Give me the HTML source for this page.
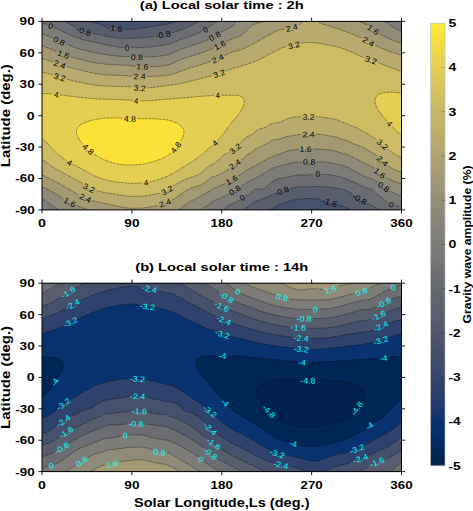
<!DOCTYPE html>
<html><head><meta charset="utf-8"><style>
html,body{margin:0;padding:0;background:#fff;}
svg{display:block;}
text{font-family:"Liberation Sans",sans-serif;}
</style></head><body>
<svg width="473" height="511" viewBox="0 0 473 511">
<rect width="473" height="511" fill="#fff"/>
<mask id="m0" maskUnits="userSpaceOnUse" x="0" y="0" width="473" height="511"><rect x="0" y="0" width="473" height="511" fill="#fff"/><rect x="-3.75" y="-3.2" width="7.49" height="6.4" transform="translate(50.59 25.8) rotate(21.97)" fill="#000"/><rect x="-7.56" y="-3.2" width="15.12" height="6.4" transform="translate(59.08 40.98) rotate(24.88)" fill="#000"/><rect x="-7.56" y="-3.2" width="15.12" height="6.4" transform="translate(63.37 54.39) rotate(21.12)" fill="#000"/><rect x="-7.56" y="-3.2" width="15.12" height="6.4" transform="translate(59.78 64.34) rotate(18.88)" fill="#000"/><rect x="-7.56" y="-3.2" width="15.12" height="6.4" transform="translate(59.78 77.11) rotate(16.63)" fill="#000"/><rect x="-9" y="-3.2" width="18.01" height="6.4" transform="translate(83.84 31.03) rotate(19.9)" fill="#000"/><rect x="-9" y="-3.2" width="18.01" height="6.4" transform="translate(114.9 28.21) rotate(7.04)" fill="#000"/><rect x="-3.75" y="-3.2" width="7.49" height="6.4" transform="translate(126.98 48) rotate(0.77)" fill="#000"/><rect x="-7.56" y="-3.2" width="15.12" height="6.4" transform="translate(136.87 57.01) rotate(1.88)" fill="#000"/><rect x="-7.56" y="-3.2" width="15.12" height="6.4" transform="translate(142.46 66.54) rotate(1.22)" fill="#000"/><rect x="-7.56" y="-3.2" width="15.12" height="6.4" transform="translate(139.66 76.38) rotate(1.29)" fill="#000"/><rect x="-7.56" y="-3.2" width="15.12" height="6.4" transform="translate(139.66 88) rotate(3.37)" fill="#000"/><rect x="-3.75" y="-3.2" width="7.49" height="6.4" transform="translate(136.17 100.67) rotate(2.89)" fill="#000"/><rect x="-7.56" y="-3.2" width="15.12" height="6.4" transform="translate(129.78 118.79) rotate(2.06)" fill="#000"/><rect x="-9" y="-3.2" width="18.01" height="6.4" transform="translate(163.03 34.59) rotate(-10.46)" fill="#000"/><rect x="-3.75" y="-3.2" width="7.49" height="6.4" transform="translate(205.37 29.57) rotate(-29.95)" fill="#000"/><rect x="-7.56" y="-3.2" width="15.12" height="6.4" transform="translate(214.66 35.96) rotate(-28.96)" fill="#000"/><rect x="-7.56" y="-3.2" width="15.12" height="6.4" transform="translate(219.75 45.17) rotate(-27.03)" fill="#000"/><rect x="-7.56" y="-3.2" width="15.12" height="6.4" transform="translate(217.66 58.68) rotate(-23.24)" fill="#000"/><rect x="-7.56" y="-3.2" width="15.12" height="6.4" transform="translate(219.05 73.55) rotate(-18.68)" fill="#000"/><rect x="-3.75" y="-3.2" width="7.49" height="6.4" transform="translate(217.66 95.33) rotate(-1.79)" fill="#000"/><rect x="-7.56" y="-3.2" width="15.12" height="6.4" transform="translate(291.65 27.79) rotate(-13.17)" fill="#000"/><rect x="-7.56" y="-3.2" width="15.12" height="6.4" transform="translate(293.85 45.17) rotate(-13.67)" fill="#000"/><rect x="-7.56" y="-3.2" width="15.12" height="6.4" transform="translate(373.14 29.78) rotate(36.29)" fill="#000"/><rect x="-7.56" y="-3.2" width="15.12" height="6.4" transform="translate(368.45 41.61) rotate(29.25)" fill="#000"/><rect x="-7.56" y="-3.2" width="15.12" height="6.4" transform="translate(371.04 60.04) rotate(17.44)" fill="#000"/><rect x="-3.75" y="-3.2" width="7.49" height="6.4" transform="translate(56.28 94.6) rotate(6.82)" fill="#000"/><rect x="-7.56" y="-3.2" width="15.12" height="6.4" transform="translate(88.24 149.16) rotate(41.58)" fill="#000"/><rect x="-7.56" y="-3.2" width="15.12" height="6.4" transform="translate(175.81 147.38) rotate(-51.47)" fill="#000"/><rect x="-3.75" y="-3.2" width="7.49" height="6.4" transform="translate(214.96 143.09) rotate(-42.79)" fill="#000"/><rect x="-7.56" y="-3.2" width="15.12" height="6.4" transform="translate(235.23 148.64) rotate(-39.15)" fill="#000"/><rect x="-3.75" y="-3.2" width="7.49" height="6.4" transform="translate(389.72 123.71) rotate(47.65)" fill="#000"/><rect x="-7.56" y="-3.2" width="15.12" height="6.4" transform="translate(308.53 116.91) rotate(0.63)" fill="#000"/><rect x="-7.56" y="-3.2" width="15.12" height="6.4" transform="translate(308.53 134.29) rotate(-0.43)" fill="#000"/><rect x="-7.56" y="-3.2" width="15.12" height="6.4" transform="translate(305.63 149.16) rotate(0.5)" fill="#000"/><rect x="-7.56" y="-3.2" width="15.12" height="6.4" transform="translate(382.53 144.45) rotate(40)" fill="#000"/><rect x="-3.75" y="-3.2" width="7.49" height="6.4" transform="translate(69.66 162.57) rotate(29.59)" fill="#000"/><rect x="-7.56" y="-3.2" width="15.12" height="6.4" transform="translate(88.93 188.01) rotate(26.98)" fill="#000"/><rect x="-7.56" y="-3.2" width="15.12" height="6.4" transform="translate(85.34 198.07) rotate(22.96)" fill="#000"/><rect x="-7.56" y="-3.2" width="15.12" height="6.4" transform="translate(69.66 202.26) rotate(27.52)" fill="#000"/><rect x="-3.75" y="-3.2" width="7.49" height="6.4" transform="translate(146.06 182.46) rotate(-7.78)" fill="#000"/><rect x="-7.56" y="-3.2" width="15.12" height="6.4" transform="translate(167.13 190.21) rotate(-29.39)" fill="#000"/><rect x="-7.56" y="-3.2" width="15.12" height="6.4" transform="translate(164.93 202.99) rotate(-19.25)" fill="#000"/><rect x="-7.56" y="-3.2" width="15.12" height="6.4" transform="translate(234.83 164.45) rotate(-34.88)" fill="#000"/><rect x="-7.56" y="-3.2" width="15.12" height="6.4" transform="translate(231.74 180.05) rotate(-28.49)" fill="#000"/><rect x="-7.56" y="-3.2" width="15.12" height="6.4" transform="translate(234.73 190.21) rotate(-31.32)" fill="#000"/><rect x="-3.75" y="-3.2" width="7.49" height="6.4" transform="translate(242.22 197.65) rotate(-30.35)" fill="#000"/><rect x="-9" y="-3.2" width="18.01" height="6.4" transform="translate(281.67 190.95) rotate(-18.5)" fill="#000"/><rect x="-7.56" y="-3.2" width="15.12" height="6.4" transform="translate(309.13 161.83) rotate(-0.6)" fill="#000"/><rect x="-3.75" y="-3.2" width="7.49" height="6.4" transform="translate(317.62 173.98) rotate(-0.82)" fill="#000"/><rect x="-9" y="-3.2" width="18.01" height="6.4" transform="translate(359.56 199.01) rotate(30.6)" fill="#000"/><rect x="-9" y="-3.2" width="18.01" height="6.4" transform="translate(329.7 202.26) rotate(16.18)" fill="#000"/><rect x="-7.56" y="-3.2" width="15.12" height="6.4" transform="translate(382.53 160.89) rotate(42.36)" fill="#000"/><rect x="-7.56" y="-3.2" width="15.12" height="6.4" transform="translate(379.83 173.25) rotate(37.82)" fill="#000"/><rect x="-7.56" y="-3.2" width="15.12" height="6.4" transform="translate(383.72 186.86) rotate(35.48)" fill="#000"/><rect x="-3.75" y="-3.2" width="7.49" height="6.4" transform="translate(391.51 204.35) rotate(22.47)" fill="#000"/></mask>
<clipPath id="c0"><rect x="42.0" y="21.4" width="359.5" height="188.5"/></clipPath>
<g clip-path="url(#c0)">
<rect x="42.0" y="21.4" width="359.5" height="188.5" fill="#00224e"/>
<path fill="#002656" fill-rule="evenodd" d="M43 209.9 401.5 209.9 401.5 21.4 42 21.4 42 209.9Z"/>
<path fill="#083370" fill-rule="evenodd" d="M43 209.9 401.5 209.9 401.5 21.4 42 21.4 42 209.9Z"/>
<path fill="#2f426d" fill-rule="evenodd" d="M43 209.9 401.5 209.9 401.5 21.4 42 21.4 42 209.9Z"/>
<path fill="#45506c" fill-rule="evenodd" d="M43 209.9 401.5 209.9 401.5 21.4 42 21.4 42 209.9Z"/>
<path fill="#595e6e" fill-rule="evenodd" d="M43 209.9 269.8 209.9 280.7 204 285.7 202.5 291.7 200.2 302.6 198.7 306.6 198.5 316.6 198.9 320.3 199.4 322.6 199.9 329.6 202.2 336.6 204 340.6 205.2 345.6 207.2 350.9 209.9 401.5 209.9 401.5 21.4 177.5 21.4 172.8 22.9 165.8 24.3 144.9 27.7 128.9 29.6 120.9 29.1 106.9 27.3 104.9 26.7 100.9 24.5 98.9 23.7 90.9 22.3 87.9 21.4 42 21.4 42 209.9Z"/>
<path fill="#6b6d72" fill-rule="evenodd" d="M43 209.9 243 209.9 250.2 204.7 255.2 201.5 263.7 198.3 277.7 192.4 284.7 189.9 290.7 188.4 300.6 186.7 305.6 186.9 317.6 186.5 325.6 186.8 333.6 187.7 338.6 188.6 346.6 190.6 350.6 192.7 359.6 199 369.5 204.2 379.2 209.9 401.5 209.9 401.5 21.4 198.3 21.4 193.1 24.5 186.8 27.6 181.8 29.5 170.8 33.2 155.8 36 148.9 37.1 142.9 37.7 133 38.2 129.9 38.5 127.9 38.6 118.9 38.1 105.9 36.2 86.7 31.9 82.9 30.7 78.5 28.7 64.7 21.4 42 21.4 42 209.9Z"/>
<path fill="#7d7c78" fill-rule="evenodd" d="M43 209.9 224.4 209.9 225.7 207.6 226.7 206.4 228.7 205.2 236.7 202 242.7 197.4 249.6 194.2 250.8 193.1 253.6 190 254.7 189.1 255.7 188.9 256.7 188.8 261.7 189.5 263.5 189 265.7 187.4 271.7 182.1 274.1 180.6 276.7 179.4 279.7 178.5 286.7 177.3 296.6 175.1 300.6 174.8 305.6 175.2 317.6 174 327.6 174.6 333.6 175.3 340.6 177 345.6 178.7 356.6 183.3 364.6 187.3 370.5 189.1 372.4 190 374.5 191.6 383.8 199.4 387.5 202.1 390.5 203.9 392.5 204.7 394.5 205.3 401.5 206.8 401.5 21.4 216.4 21.4 208.3 27.7 204.8 30 201.8 31.6 194.8 34.6 179.8 39.9 170.8 43.6 162.8 45.4 151.8 46.8 144.9 47.3 135.9 47.7 131.9 47.7 127.9 47.3 125.9 47.9 120.9 47.5 113.9 46.4 105.9 44.9 95.9 42.4 88.9 41.1 83.9 39.9 72 35.8 66 33.1 52 26.4 48 24.8 42 22.8 42 209.9Z"/>
<path fill="#908b78" fill-rule="evenodd" d="M57 208.9 58.6 209.9 200.5 209.9 203.2 207.8 205.8 206.6 207.8 205.3 214.8 200.2 215.8 199.7 218.8 199 219.8 198.5 224.7 195.8 231.7 192.3 235.1 190 239.7 187.3 245.7 183.1 252.7 179.5 260.7 175.6 268.7 170.4 271 169.1 276.7 166.9 290.7 163.1 294.6 162.3 299.6 161.9 317.6 161.7 323.6 162 332.6 163.3 340.6 165 344.6 166.1 347.6 167.3 358.6 173.4 364.6 176.5 367.5 177.7 370.5 178.3 372.5 178.9 376.5 181.4 384.5 187.4 389.5 190.7 395.5 193.7 401.5 195.8 401.5 31.3 398 29.8 394.1 27.7 389.2 24.5 384.8 21.4 235.5 21.4 234.9 23.5 234.3 24.5 233.4 25.6 231.9 26.6 222.7 31.4 209.8 38.6 201.8 42.2 182.8 48.6 177.8 50.6 171.8 53.6 167.8 54.7 162.8 55.7 157.8 56.4 150.8 56.9 142.9 57.1 122.9 56.5 112.9 55.7 96.9 53 82.1 49.7 77 48.2 68 44.9 49 36.3 42 33.7 42 198.8 46 201.1 56.9 208.9Z"/>
<path fill="#a39a74" fill-rule="evenodd" d="M85.9 209 89 209.9 178.3 209.9 181.8 207.7 190.5 201.5 193.8 199.5 200.8 196.1 213.8 188.5 224.6 183.7 234.7 178.6 237.7 176.7 245.7 170.7 259 163.8 267.7 158.7 273.7 156.1 281.7 153.3 285.7 151.6 288.7 150.8 298.6 149 316.6 149.1 323.6 149.4 330.6 150.2 333.6 150.8 337.6 151.8 343.6 153.7 347.6 154.7 354.6 158 366.5 164.5 371.5 166.2 374.5 168.3 380.5 173.7 384.5 176.4 388.5 178.7 394.5 181.6 401.5 184 401.5 43.1 393.5 40.6 385.5 37.1 379.8 34 374.6 30.8 368.5 26 366.5 24.7 359 21.4 262.9 21.4 255.7 23.7 253.7 24.5 251.7 25.6 249.7 27.2 244.3 32.9 242.7 34.2 240.7 35.5 237.7 36.9 233.7 38.1 230.7 39.4 218.8 45.7 211.8 48.9 201.8 52.8 181.8 59.2 177.8 60.8 172.8 63.4 170.8 64.2 165.8 65.4 158.8 66.2 148.9 66.6 136.9 66.4 132.9 66 127.9 65.3 117.9 64.9 105.9 64.2 96.9 63 85.9 60.7 74 57.7 68 56 63 54.2 49 48.3 42 45.7 42 187 47 189.1 52 191.7 66 200.2 72 203.4 78.9 206.5 85.6 208.9Z"/>
<path fill="#b9ab6d" fill-rule="evenodd" d="M125.9 207.8 130.9 208.3 136.9 208.3 142.9 208 147.9 207.4 152.8 206.5 157.8 205.3 169.8 201.3 174.8 198.5 183.9 192.1 188.8 189.1 191.8 187.8 197.8 186.2 200.8 185.1 204.7 182.7 210.8 178 212.8 176.8 217.8 175.2 224.7 171.6 227.7 169.7 233.7 165.1 243.5 158.6 245.7 156.5 246.3 155.4 250.7 152.8 255.7 149 257.7 147.9 265.7 144.3 271.7 140.5 273.7 139.8 279.7 139 284.7 137.1 286.7 136.6 298.6 134.5 302.6 134.3 315.6 134.2 321.6 134.5 334.6 136.8 337.5 137.6 341.6 139.2 346.6 140.5 352.6 143.3 362.1 147.1 372.5 152.6 377.5 156.3 385.5 163.6 389.5 166.7 392.5 168.5 395.5 170.1 401.5 172.4 401.5 55.2 390.5 51.8 381.5 48.3 373.5 44.4 364.4 39.2 354.6 34.9 339.6 29.2 321.6 23.7 319.6 22.8 317.9 21.4 302.9 21.4 299.6 24.7 298 25.6 295.6 26.6 291.7 27.8 280.7 29.7 277.7 30.5 275.7 31.4 266.9 36.1 250.7 45.3 246.7 47.3 242.7 49 237.8 50.7 233.7 51.6 231.7 52.3 216.8 59.1 207.8 62.5 187.8 68.8 174.8 73.4 169.8 74.8 166.8 75.3 155.8 76.3 145.9 76.6 132.9 76.3 121.9 75.4 105.9 74.9 100.9 74.4 88.9 72.2 72 68 63 65.4 49 60.5 42 58.4 42 174.8 57.6 182.7 79.6 195.2 85.9 198.3 91.9 200.4 100.9 202.8 103.9 203.5 107.9 204 118.9 206.6 125.8 207.8Z"/>
<path fill="#cebc63" fill-rule="evenodd" d="M130.9 196.3 134.9 196.5 139.9 196.3 144.9 195.9 149.8 195.2 158.8 193.3 162.8 192.1 165.8 190.9 167.4 190 171.7 186.9 181.8 181.3 186.8 179 196.8 175.4 199.8 173.9 207.8 167.1 218.2 160.7 219.2 159.6 220.8 157.5 223.1 155.4 234.7 148.9 235.7 148.1 239.7 143.5 243.7 139.9 245.7 137.6 247.7 136.5 252.4 134.5 253.7 133.5 255.7 131.2 256.8 130.3 259.7 129 265.7 127.3 269.7 124.6 271.7 123.5 273.7 123 279.7 122.6 281.2 121.9 284.7 119.8 286.7 118.9 289.7 118 293.6 117.2 296.6 116.8 300.6 116.6 308.6 116.9 319.6 116.9 323.6 117.3 327.6 117.9 334.6 119.2 337.6 120 341.9 121.9 357.6 128.2 362.6 131.3 367.5 133.7 378.5 141.1 389.5 150.4 393.5 153.4 397.5 155.8 401.5 157.6 401.5 71.4 388.5 66.7 372.5 60.5 367.5 59.4 365.6 58.7 353.4 52.8 345.7 49.7 339.7 47.6 335.9 46.5 328.6 45 318.6 43.2 313.6 42.6 307.6 42.6 301.6 43.1 299.6 43.5 293.6 45.2 285.7 46.8 282.7 47.6 276.7 50.3 261.7 58.4 253.7 62 245.7 64.8 232.7 68.4 219.8 73.3 212.8 75.5 188.8 81.6 179.8 83.8 174.8 84.6 168.8 85.2 153.8 87.3 146.9 87.9 140.9 88 129.9 86.8 104.9 86.1 94.9 85.1 84.9 83.4 73 80.8 65 78.7 47 73.3 42 72.2 42 159.3 49 164.5 54.4 168 66 174.5 79.9 182 82.8 183.7 87.9 187.4 90.9 188.9 96.9 190.8 106.9 192.9 121.9 195.4 130 196.3Z"/>
<path fill="#e5cf52" fill-rule="evenodd" d="M122.9 182.7 127.9 183.1 132.9 183.3 142.9 182.8 147.9 182.2 151.8 181.5 155.8 180.5 159.8 179.3 167.8 176 173.2 173.2 187 164.9 195.8 159 199.8 156.2 203.8 152.9 215.2 142.9 220.3 137.6 224.6 132.4 232.7 121.2 237.7 115.7 240.6 111.5 242.3 108.3 243.7 105.2 244.2 103.1 244.2 101 243.7 99.2 242.7 97.8 240.7 96.3 239.3 95.8 237.7 95.4 221.8 95.3 208.9 95.8 199.8 96.4 181.8 98.1 166.8 99.2 151.8 100.5 141.9 100.9 114.9 99.4 100.9 99.1 93.9 98.7 79.9 97.3 50 93.8 46 93.5 42 93.6 42 138.6 47 142.9 54.6 151.3 57.8 154.4 63.4 158.6 70 162.8 81.9 169 92.9 175 98.9 177.7 103.9 179.3 108.9 180.6 114.9 181.7 122.2 182.7ZM401.5 135 401.5 93.1 395.5 92.4 390.5 92.1 385.5 92.4 381.5 93.2 378.5 94.5 376.5 96.3 375.6 97.8 375.2 98.9 375 101 375.4 104.1 376.6 107.3 378.4 110.4 381.4 114.6 384 117.7 389.5 123.5 394.5 129.3 397.5 132.1 400.7 134.5Z"/>
<path fill="#fce236" fill-rule="evenodd" d="M124.9 164.9 129.9 165 135.9 164.8 143.9 164 150.8 162.4 159.8 159.4 162.8 158.1 165.8 156.6 170.6 153.3 172.7 151.3 178.6 143.9 180.9 140.8 182.1 138.7 183.1 136.6 183.7 134.5 184 132.4 183.8 130.3 182.9 128.2 182.2 127.2 180.8 125.8 178.8 124.3 176.4 123 173.8 121.9 169.8 120.5 167.8 120 159.8 119.1 148.9 118.7 129.9 118.8 114.9 117.8 109.9 117.9 103.9 118.2 99.4 118.8 94.9 119.6 89.9 120.8 86.9 121.8 83.8 123 81.8 124 79.9 125.2 77.9 127.2 76.8 129.3 76.5 131.4 76.9 134.5 78.1 137.6 80.1 140.8 82.8 143.9 85.9 147.1 91.9 152.3 97.9 156.6 101.5 158.6 104.9 160.1 110.9 162.2 114.9 163.4 119.9 164.4 124.5 164.9Z"/>
<g mask="url(#m0)" fill="none" stroke="#000" stroke-width="0.6" stroke-dasharray="0.7 0.7" stroke-opacity="1">
<path d="M269.8 209.9 280.7 204 285.7 202.5 291.7 200.2 302.6 198.7 306.6 198.5 316.6 198.9 320.3 199.4 322.6 199.9 329.6 202.2 336.6 204 340.6 205.2 345.6 207.2 350.9 209.9"/>
<path d="M177.5 21.4 172.8 22.9 165.8 24.3 144.9 27.7 128.9 29.6 120.9 29.1 106.9 27.3 104.9 26.7 100.9 24.5 98.9 23.7 90.9 22.3 87.9 21.4"/>
<path d="M243 209.9 250.2 204.7 255.2 201.5 263.7 198.3 277.7 192.4 284.7 189.9 290.7 188.4 300.6 186.7 305.6 186.9 317.6 186.5 325.6 186.8 333.6 187.7 338.6 188.6 346.6 190.6 350.6 192.7 359.6 199 369.5 204.2 379.2 209.9"/>
<path d="M198.3 21.4 193.1 24.5 186.8 27.6 181.8 29.5 170.8 33.2 155.8 36 148.9 37.1 142.9 37.7 133 38.2 129.9 38.5 127.9 38.6 118.9 38.1 105.9 36.2 86.7 31.9 82.9 30.7 78.5 28.7 64.7 21.4"/>
<path d="M224.4 209.9 225.7 207.6 226.7 206.4 228.7 205.2 236.7 202 242.7 197.4 249.6 194.2 250.8 193.1 253.6 190 254.7 189.1 255.7 188.9 256.7 188.8 261.7 189.5 263.5 189 265.7 187.4 271.7 182.1 274.1 180.6 276.7 179.4 279.7 178.5 286.7 177.3 296.6 175.1 300.6 174.8 305.6 175.2 317.6 174 327.6 174.6 333.6 175.3 340.6 177 345.6 178.7 356.6 183.3 364.6 187.3 370.5 189.1 372.4 190 374.5 191.6 383.8 199.4 387.5 202.1 390.5 203.9 392.5 204.7 394.5 205.3 401.5 206.8"/>
<path d="M216.4 21.4 208.3 27.7 204.8 30 201.8 31.6 194.8 34.6 179.8 39.9 170.8 43.6 162.8 45.4 151.8 46.8 144.9 47.3 135.9 47.7 131.9 47.7 127.9 47.3 125.9 47.9 120.9 47.5 113.9 46.4 105.9 44.9 95.9 42.4 88.9 41.1 83.9 39.9 72 35.8 66 33.1 52 26.4 48 24.8 42 22.8"/>
<path d="M200.5 209.9 203.2 207.8 205.8 206.6 207.8 205.3 214.8 200.2 215.8 199.7 218.8 199 219.8 198.5 224.7 195.8 231.7 192.3 235.1 190 239.7 187.3 245.7 183.1 252.7 179.5 260.7 175.6 270.7 169.2 273.5 168 276.6 167 289.7 163.3 293.6 162.5 297.6 162 316.6 161.7 322.6 161.9 327.6 162.4 332.6 163.3 340.6 165 344.6 166.1 347.6 167.3 358.6 173.4 364.6 176.5 367.5 177.7 370.5 178.3 372.5 178.9 376.5 181.4 384.5 187.4 389.5 190.7 395.5 193.7 401.5 195.8"/>
<path d="M42 198.8 45 200.5 55 207.6 58.6 209.9"/>
<path d="M401.5 31.3 398 29.8 394.1 27.7 389.2 24.5 384.8 21.4"/>
<path d="M235.5 21.4 234.9 23.5 234.3 24.5 233.4 25.6 231.9 26.6 222.7 31.4 210.8 38.1 204.8 41 197.8 43.6 181.8 49 177.8 50.6 172.8 53.1 170.8 53.9 166.8 55 162.8 55.7 153.8 56.7 139.9 57.1 129.9 56.6 120.9 56.4 110.9 55.4 95.9 52.8 80.9 49.4 74 47.2 65 43.7 48.3 36.1 42 33.7"/>
<path d="M178.3 209.9 181.8 207.7 190.5 201.5 193.8 199.5 200.8 196.1 213.8 188.5 224.6 183.7 234.7 178.6 237.7 176.7 245.7 170.7 259 163.8 267.7 158.7 273.7 156.1 281.7 153.3 285.7 151.6 288.7 150.8 298.6 149 316.6 149.1 323.6 149.4 330.6 150.2 333.6 150.8 337.6 151.8 343.6 153.7 347.6 154.7 354.6 158 366.5 164.5 371.5 166.2 374.5 168.3 380.5 173.7 384.5 176.4 388.5 178.7 394.5 181.6 401.5 184"/>
<path d="M42 187 47 189.1 52 191.7 66 200.2 73 203.9 79.9 206.9 89 209.9"/>
<path d="M401.5 43.1 393.5 40.6 385.5 37.1 379.8 34 374.6 30.8 368.5 26 366.5 24.7 359 21.4"/>
<path d="M262.9 21.4 255.7 23.7 253.7 24.5 251.7 25.6 249.7 27.2 244.3 32.9 242.7 34.2 240.7 35.5 237.7 36.9 233.7 38.1 230.7 39.4 218.8 45.7 212.8 48.5 202.8 52.4 186.8 57.5 180.8 59.5 177.8 60.8 172.8 63.4 170.8 64.2 166.8 65.2 161.8 66 151.8 66.6 137.9 66.4 133.9 66.2 127.9 65.3 117.9 64.9 105.9 64.2 97.9 63.2 86.9 61 74 57.7 68 56 63 54.2 49 48.3 42 45.7"/>
<path d="M42 174.8 59 183.4 81.6 196.3 85.9 198.3 91.9 200.4 101.9 203.1 107.9 204 119.9 206.8 126.9 207.9 130.9 208.3 137.9 208.2 142.9 208 147.9 207.4 152.8 206.5 157.8 205.3 169.8 201.3 174.8 198.5 183.9 192.1 189.1 189 191.8 187.8 198.8 185.9 201.4 184.8 204.7 182.7 210.8 178 212.8 176.8 217.8 175.2 221.8 173.3 225.7 171 233.7 165.1 243.5 158.6 245.7 156.5 246.3 155.4 250.7 152.8 255.7 149 257.7 147.9 265.7 144.3 271.7 140.5 273.7 139.8 279.7 139 284.7 137.1 286.7 136.6 297.6 134.7 302.6 134.3 315.6 134.2 319.6 134.3 322.6 134.6 331.6 136.2 335.6 137.1 341.6 139.2 346.6 140.5 352.6 143.3 361.6 146.8 371.5 152 374.5 153.9 378.5 157.1 385.8 163.8 390.5 167.4 395.6 170.1 401.5 172.4"/>
<path d="M401.5 55.2 390.5 51.8 381.5 48.3 373.5 44.4 364.4 39.2 354.6 34.9 339.6 29.2 321.6 23.7 319.6 22.8 317.9 21.4"/>
<path d="M302.9 21.4 299.6 24.7 298 25.6 295.6 26.6 291.7 27.8 280.7 29.7 277.7 30.5 275.7 31.4 266.9 36.1 250.7 45.3 246.7 47.3 242.7 49 237.8 50.7 233.7 51.6 231.7 52.3 216.8 59.1 207.8 62.5 187.8 68.8 174.8 73.4 169.8 74.8 166.8 75.3 155.8 76.3 145.9 76.6 132.9 76.3 121.9 75.4 105.9 74.9 100.9 74.4 88.9 72.2 72 68 63 65.4 49 60.5 42 58.4"/>
<path d="M42 159.3 49.5 164.9 55 168.4 67 175.1 80.9 182.6 88.8 187.9 92.9 189.6 98.1 191.1 106.9 192.9 120.9 195.2 126.9 196 132.9 196.4 137.9 196.4 143.9 196 149.8 195.2 158.8 193.3 164.8 191.3 167.4 190 170.1 187.9 172.8 186.2 182.8 180.8 186.8 179 195.8 175.8 199.1 174.3 200.8 173.1 205.4 169.1 207.8 167.1 218.2 160.7 219.2 159.6 220.8 157.5 223.1 155.4 234.7 148.9 235.7 148.1 239.7 143.5 243.7 139.9 245.7 137.6 247.7 136.5 252.4 134.5 253.7 133.5 255.7 131.2 257.7 129.8 260.7 128.7 265.7 127.3 269.7 124.6 271.7 123.5 273.7 123 279.7 122.6 281.2 121.9 285.7 119.3 287.7 118.6 290.7 117.7 295.6 116.9 300.6 116.6 308.6 116.9 317.6 116.8 321.6 117 325.6 117.6 333.6 119 337.6 120 341.9 121.9 357.6 128.2 362.6 131.3 367.5 133.7 378.5 141.1 389.5 150.4 393.5 153.4 397.5 155.8 401.5 157.6"/>
<path d="M401.5 71.4 388.5 66.7 372.5 60.5 367.5 59.4 365.6 58.7 353.4 52.8 345.7 49.7 339.6 47.5 331.6 45.6 319.7 43.4 314.6 42.7 310.6 42.5 305.6 42.7 300.6 43.2 293.6 45.2 285.7 46.8 282.7 47.6 276.7 50.3 261.7 58.4 253.7 62 245.7 64.8 232.7 68.4 219.8 73.3 213.8 75.2 188.8 81.6 179.8 83.8 174.8 84.6 168.8 85.2 154.8 87.2 146.9 87.9 140.9 88 129.9 86.8 105.9 86.1 95.9 85.2 84.9 83.4 73 80.8 65 78.7 47 73.3 42 72.2"/>
<path d="M42 138.6 47 142.9 56.6 153.3 59.1 155.4 63.4 158.6 70 162.8 81.9 169 91.9 174.5 97.9 177.3 102.9 179 108.9 180.6 116.9 182 124.9 182.9 130.9 183.3 137.9 183.2 143.9 182.7 149.8 181.9 154.8 180.8 159.8 179.3 165.8 176.9 170.8 174.6 187 164.9 196.8 158.3 203.3 153.3 216.3 141.8 220.3 137.6 223 134.5 231.7 122.4 233.7 120 236.9 116.7 239.9 112.5 241.8 109.4 243.3 106.2 244 104.1 244.3 102 244 99.9 243.6 98.9 242.7 97.8 241.6 96.8 239.7 95.9 236.7 95.3 220.8 95.3 208.8 95.8 199.8 96.4 181.8 98.1 166.8 99.2 151.8 100.5 141.9 100.9 114.9 99.4 100.9 99.1 93.9 98.7 79.9 97.3 50 93.8 46 93.5 42 93.6"/>
<path d="M401.5 93.1 395.5 92.4 390.5 92.1 385.5 92.4 381.5 93.2 378.5 94.5 376.5 96.3 375.6 97.8 375.2 98.9 375 101 375.4 104.1 376.6 107.3 378.4 110.4 381.4 114.6 384 117.7 389.5 123.5 394.5 129.3 397.9 132.4 401.5 135"/>
<path d="M124.9 164.9 129.9 165 137.9 164.7 142.9 164.1 146.9 163.4 151.8 162.1 159.3 159.6 163.8 157.7 167.7 155.4 170.6 153.3 172.7 151.3 179.4 142.9 182.1 138.7 183.5 135.5 183.9 133.5 184 131.4 183.8 130.3 182.9 128.2 181.2 126.1 178.4 124 175.8 122.7 170.8 120.8 167.8 120 164.8 119.6 154.8 118.8 145.9 118.7 129.9 118.8 114.9 117.8 104.9 118.1 97.9 119 90.9 120.5 84.9 122.5 80.9 124.5 78.9 126.1 77.3 128.2 76.6 130.3 76.5 131.4 76.6 133.5 77.6 136.6 79.4 139.7 81.8 142.9 85.9 147.1 90.6 151.3 94.7 154.4 99.6 157.5 103.7 159.6 109.9 161.9 114.9 163.4 119.9 164.4 124.9 164.9"/>
</g>
<g font-family="Liberation Sans, sans-serif" font-size="8" fill="#000" text-anchor="middle">
<text transform="translate(50.59 25.8) rotate(21.97)" y="2.88" textLength="4.49" lengthAdjust="spacingAndGlyphs">0</text>
<text transform="translate(59.08 40.98) rotate(24.88)" y="2.88" textLength="12.12" lengthAdjust="spacingAndGlyphs">0.8</text>
<text transform="translate(63.37 54.39) rotate(21.12)" y="2.88" textLength="12.12" lengthAdjust="spacingAndGlyphs">1.6</text>
<text transform="translate(59.78 64.34) rotate(18.88)" y="2.88" textLength="12.12" lengthAdjust="spacingAndGlyphs">2.4</text>
<text transform="translate(59.78 77.11) rotate(16.63)" y="2.88" textLength="12.12" lengthAdjust="spacingAndGlyphs">3.2</text>
<text transform="translate(83.84 31.03) rotate(19.9)" y="2.88" textLength="15.01" lengthAdjust="spacingAndGlyphs">-0.8</text>
<text transform="translate(114.9 28.21) rotate(7.04)" y="2.88" textLength="15.01" lengthAdjust="spacingAndGlyphs">-1.6</text>
<text transform="translate(126.98 48) rotate(0.77)" y="2.88" textLength="4.49" lengthAdjust="spacingAndGlyphs">0</text>
<text transform="translate(136.87 57.01) rotate(1.88)" y="2.88" textLength="12.12" lengthAdjust="spacingAndGlyphs">0.8</text>
<text transform="translate(142.46 66.54) rotate(1.22)" y="2.88" textLength="12.12" lengthAdjust="spacingAndGlyphs">1.6</text>
<text transform="translate(139.66 76.38) rotate(1.29)" y="2.88" textLength="12.12" lengthAdjust="spacingAndGlyphs">2.4</text>
<text transform="translate(139.66 88) rotate(3.37)" y="2.88" textLength="12.12" lengthAdjust="spacingAndGlyphs">3.2</text>
<text transform="translate(136.17 100.67) rotate(2.89)" y="2.88" textLength="4.49" lengthAdjust="spacingAndGlyphs">4</text>
<text transform="translate(129.78 118.79) rotate(2.06)" y="2.88" textLength="12.12" lengthAdjust="spacingAndGlyphs">4.8</text>
<text transform="translate(163.03 34.59) rotate(-10.46)" y="2.88" textLength="15.01" lengthAdjust="spacingAndGlyphs">-0.8</text>
<text transform="translate(205.37 29.57) rotate(-29.95)" y="2.88" textLength="4.49" lengthAdjust="spacingAndGlyphs">0</text>
<text transform="translate(214.66 35.96) rotate(-28.96)" y="2.88" textLength="12.12" lengthAdjust="spacingAndGlyphs">0.8</text>
<text transform="translate(219.75 45.17) rotate(-27.03)" y="2.88" textLength="12.12" lengthAdjust="spacingAndGlyphs">1.6</text>
<text transform="translate(217.66 58.68) rotate(-23.24)" y="2.88" textLength="12.12" lengthAdjust="spacingAndGlyphs">2.4</text>
<text transform="translate(219.05 73.55) rotate(-18.68)" y="2.88" textLength="12.12" lengthAdjust="spacingAndGlyphs">3.2</text>
<text transform="translate(217.66 95.33) rotate(-1.79)" y="2.88" textLength="4.49" lengthAdjust="spacingAndGlyphs">4</text>
<text transform="translate(291.65 27.79) rotate(-13.17)" y="2.88" textLength="12.12" lengthAdjust="spacingAndGlyphs">2.4</text>
<text transform="translate(293.85 45.17) rotate(-13.67)" y="2.88" textLength="12.12" lengthAdjust="spacingAndGlyphs">3.2</text>
<text transform="translate(373.14 29.78) rotate(36.29)" y="2.88" textLength="12.12" lengthAdjust="spacingAndGlyphs">1.6</text>
<text transform="translate(368.45 41.61) rotate(29.25)" y="2.88" textLength="12.12" lengthAdjust="spacingAndGlyphs">2.4</text>
<text transform="translate(371.04 60.04) rotate(17.44)" y="2.88" textLength="12.12" lengthAdjust="spacingAndGlyphs">3.2</text>
<text transform="translate(56.28 94.6) rotate(6.82)" y="2.88" textLength="4.49" lengthAdjust="spacingAndGlyphs">4</text>
<text transform="translate(88.24 149.16) rotate(41.58)" y="2.88" textLength="12.12" lengthAdjust="spacingAndGlyphs">4.8</text>
<text transform="translate(175.81 147.38) rotate(-51.47)" y="2.88" textLength="12.12" lengthAdjust="spacingAndGlyphs">4.8</text>
<text transform="translate(214.96 143.09) rotate(-42.79)" y="2.88" textLength="4.49" lengthAdjust="spacingAndGlyphs">4</text>
<text transform="translate(235.23 148.64) rotate(-39.15)" y="2.88" textLength="12.12" lengthAdjust="spacingAndGlyphs">3.2</text>
<text transform="translate(389.72 123.71) rotate(47.65)" y="2.88" textLength="4.49" lengthAdjust="spacingAndGlyphs">4</text>
<text transform="translate(308.53 116.91) rotate(0.63)" y="2.88" textLength="12.12" lengthAdjust="spacingAndGlyphs">3.2</text>
<text transform="translate(308.53 134.29) rotate(-0.43)" y="2.88" textLength="12.12" lengthAdjust="spacingAndGlyphs">2.4</text>
<text transform="translate(305.63 149.16) rotate(0.5)" y="2.88" textLength="12.12" lengthAdjust="spacingAndGlyphs">1.6</text>
<text transform="translate(382.53 144.45) rotate(40)" y="2.88" textLength="12.12" lengthAdjust="spacingAndGlyphs">3.2</text>
<text transform="translate(69.66 162.57) rotate(29.59)" y="2.88" textLength="4.49" lengthAdjust="spacingAndGlyphs">4</text>
<text transform="translate(88.93 188.01) rotate(26.98)" y="2.88" textLength="12.12" lengthAdjust="spacingAndGlyphs">3.2</text>
<text transform="translate(85.34 198.07) rotate(22.96)" y="2.88" textLength="12.12" lengthAdjust="spacingAndGlyphs">2.4</text>
<text transform="translate(69.66 202.26) rotate(27.52)" y="2.88" textLength="12.12" lengthAdjust="spacingAndGlyphs">1.6</text>
<text transform="translate(146.06 182.46) rotate(-7.78)" y="2.88" textLength="4.49" lengthAdjust="spacingAndGlyphs">4</text>
<text transform="translate(167.13 190.21) rotate(-29.39)" y="2.88" textLength="12.12" lengthAdjust="spacingAndGlyphs">3.2</text>
<text transform="translate(164.93 202.99) rotate(-19.25)" y="2.88" textLength="12.12" lengthAdjust="spacingAndGlyphs">2.4</text>
<text transform="translate(234.83 164.45) rotate(-34.88)" y="2.88" textLength="12.12" lengthAdjust="spacingAndGlyphs">2.4</text>
<text transform="translate(231.74 180.05) rotate(-28.49)" y="2.88" textLength="12.12" lengthAdjust="spacingAndGlyphs">1.6</text>
<text transform="translate(234.73 190.21) rotate(-31.32)" y="2.88" textLength="12.12" lengthAdjust="spacingAndGlyphs">0.8</text>
<text transform="translate(242.22 197.65) rotate(-30.35)" y="2.88" textLength="4.49" lengthAdjust="spacingAndGlyphs">0</text>
<text transform="translate(281.67 190.95) rotate(-18.5)" y="2.88" textLength="15.01" lengthAdjust="spacingAndGlyphs">-0.8</text>
<text transform="translate(309.13 161.83) rotate(-0.6)" y="2.88" textLength="12.12" lengthAdjust="spacingAndGlyphs">0.8</text>
<text transform="translate(317.62 173.98) rotate(-0.82)" y="2.88" textLength="4.49" lengthAdjust="spacingAndGlyphs">0</text>
<text transform="translate(359.56 199.01) rotate(30.6)" y="2.88" textLength="15.01" lengthAdjust="spacingAndGlyphs">-0.8</text>
<text transform="translate(329.7 202.26) rotate(16.18)" y="2.88" textLength="15.01" lengthAdjust="spacingAndGlyphs">-1.6</text>
<text transform="translate(382.53 160.89) rotate(42.36)" y="2.88" textLength="12.12" lengthAdjust="spacingAndGlyphs">2.4</text>
<text transform="translate(379.83 173.25) rotate(37.82)" y="2.88" textLength="12.12" lengthAdjust="spacingAndGlyphs">1.6</text>
<text transform="translate(383.72 186.86) rotate(35.48)" y="2.88" textLength="12.12" lengthAdjust="spacingAndGlyphs">0.8</text>
<text transform="translate(391.51 204.35) rotate(22.47)" y="2.88" textLength="4.49" lengthAdjust="spacingAndGlyphs">0</text>
</g>
</g>
<mask id="m1" maskUnits="userSpaceOnUse" x="0" y="0" width="473" height="511"><rect x="0" y="0" width="473" height="511" fill="#fff"/><rect x="-9" y="-3.2" width="18.01" height="6.4" transform="translate(68.26 292.31) rotate(-31.75)" fill="#000"/><rect x="-9" y="-3.2" width="18.01" height="6.4" transform="translate(72.56 304.45) rotate(-28.31)" fill="#000"/><rect x="-9" y="-3.2" width="18.01" height="6.4" transform="translate(70.46 322.14) rotate(-25.32)" fill="#000"/><rect x="-9" y="-3.2" width="18.01" height="6.4" transform="translate(149.55 288.85) rotate(12.33)" fill="#000"/><rect x="-9" y="-3.2" width="18.01" height="6.4" transform="translate(147.45 306.54) rotate(6.4)" fill="#000"/><rect x="-9" y="-3.2" width="18.01" height="6.4" transform="translate(226.74 297.33) rotate(30.38)" fill="#000"/><rect x="-9" y="-3.2" width="18.01" height="6.4" transform="translate(221.75 306.54) rotate(25.93)" fill="#000"/><rect x="-9" y="-3.2" width="18.01" height="6.4" transform="translate(223.85 320.04) rotate(22.1)" fill="#000"/><rect x="-9" y="-3.2" width="18.01" height="6.4" transform="translate(222.45 334.07) rotate(17.59)" fill="#000"/><rect x="-3.75" y="-3.2" width="7.49" height="6.4" transform="translate(237.93 291.57) rotate(30.72)" fill="#000"/><rect x="-7.56" y="-3.2" width="15.12" height="6.4" transform="translate(282.17 297.23) rotate(15.53)" fill="#000"/><rect x="-7.56" y="-3.2" width="15.12" height="6.4" transform="translate(330.6 289.58) rotate(-14.58)" fill="#000"/><rect x="-3.75" y="-3.2" width="7.49" height="6.4" transform="translate(315.52 309.47) rotate(-1.19)" fill="#000"/><rect x="-9" y="-3.2" width="18.01" height="6.4" transform="translate(304.14 318.68) rotate(0.93)" fill="#000"/><rect x="-9" y="-3.2" width="18.01" height="6.4" transform="translate(298.44 327.58) rotate(3.1)" fill="#000"/><rect x="-9" y="-3.2" width="18.01" height="6.4" transform="translate(301.34 338.15) rotate(3.43)" fill="#000"/><rect x="-9" y="-3.2" width="18.01" height="6.4" transform="translate(301.34 349.14) rotate(4.49)" fill="#000"/><rect x="-5.19" y="-3.2" width="10.38" height="6.4" transform="translate(302.24 362.43) rotate(3.93)" fill="#000"/><rect x="-7.56" y="-3.2" width="15.12" height="6.4" transform="translate(361.66 291.57) rotate(-18.35)" fill="#000"/><rect x="-3.75" y="-3.2" width="7.49" height="6.4" transform="translate(393.01 287.39) rotate(-22.37)" fill="#000"/><rect x="-9" y="-3.2" width="18.01" height="6.4" transform="translate(383.72 302.98) rotate(-27.31)" fill="#000"/><rect x="-9" y="-3.2" width="18.01" height="6.4" transform="translate(378.73 315.75) rotate(-25.36)" fill="#000"/><rect x="-9" y="-3.2" width="18.01" height="6.4" transform="translate(380.83 326.32) rotate(-24.78)" fill="#000"/><rect x="-9" y="-3.2" width="18.01" height="6.4" transform="translate(380.83 340.45) rotate(-17.86)" fill="#000"/><rect x="-5.19" y="-3.2" width="10.38" height="6.4" transform="translate(54.88 382.11) rotate(-57.19)" fill="#000"/><rect x="-9" y="-3.2" width="18.01" height="6.4" transform="translate(63.37 404.09) rotate(-36.97)" fill="#000"/><rect x="-9" y="-3.2" width="18.01" height="6.4" transform="translate(137.57 378.87) rotate(2.92)" fill="#000"/><rect x="-9" y="-3.2" width="18.01" height="6.4" transform="translate(137.57 396.24) rotate(1.54)" fill="#000"/><rect x="-9" y="-3.2" width="18.01" height="6.4" transform="translate(139.36 411.31) rotate(1.3)" fill="#000"/><rect x="-5.19" y="-3.2" width="10.38" height="6.4" transform="translate(222.45 355.94) rotate(1.18)" fill="#000"/><rect x="-5.19" y="-3.2" width="10.38" height="6.4" transform="translate(225.25 402.73) rotate(46.6)" fill="#000"/><rect x="-9" y="-3.2" width="18.01" height="6.4" transform="translate(209.97 411.42) rotate(38.22)" fill="#000"/><rect x="-9" y="-3.2" width="18.01" height="6.4" transform="translate(307.83 380.64) rotate(1.47)" fill="#000"/><rect x="-9" y="-3.2" width="18.01" height="6.4" transform="translate(269.08 411.21) rotate(46.03)" fill="#000"/><rect x="-9" y="-3.2" width="18.01" height="6.4" transform="translate(356.86 408.59) rotate(-54.84)" fill="#000"/><rect x="-5.19" y="-3.2" width="10.38" height="6.4" transform="translate(383.72 358.04) rotate(-5.97)" fill="#000"/><rect x="-9" y="-3.2" width="18.01" height="6.4" transform="translate(63.37 420.94) rotate(-37.58)" fill="#000"/><rect x="-9" y="-3.2" width="18.01" height="6.4" transform="translate(66.17 432.25) rotate(-32.31)" fill="#000"/><rect x="-9" y="-3.2" width="18.01" height="6.4" transform="translate(61.97 447.95) rotate(-32)" fill="#000"/><rect x="-3.75" y="-3.2" width="7.49" height="6.4" transform="translate(51.29 465.63) rotate(-18.95)" fill="#000"/><rect x="-7.56" y="-3.2" width="15.12" height="6.4" transform="translate(81.74 461.45) rotate(-33.02)" fill="#000"/><rect x="-7.56" y="-3.2" width="15.12" height="6.4" transform="translate(112.1 463.96) rotate(-12.49)" fill="#000"/><rect x="-9" y="-3.2" width="18.01" height="6.4" transform="translate(136.17 423.77) rotate(-0.49)" fill="#000"/><rect x="-3.75" y="-3.2" width="7.49" height="6.4" transform="translate(125.48 435.39) rotate(-5.84)" fill="#000"/><rect x="-7.56" y="-3.2" width="15.12" height="6.4" transform="translate(159.44 452.24) rotate(6.92)" fill="#000"/><rect x="-9" y="-3.2" width="18.01" height="6.4" transform="translate(210.37 428.79) rotate(42.6)" fill="#000"/><rect x="-9" y="-3.2" width="18.01" height="6.4" transform="translate(213.76 443.65) rotate(36.63)" fill="#000"/><rect x="-9" y="-3.2" width="18.01" height="6.4" transform="translate(210.37 453.6) rotate(37.83)" fill="#000"/><rect x="-3.75" y="-3.2" width="7.49" height="6.4" transform="translate(201.18 459.25) rotate(39.07)" fill="#000"/><rect x="-5.19" y="-3.2" width="10.38" height="6.4" transform="translate(293.25 443.65) rotate(13.3)" fill="#000"/><rect x="-9" y="-3.2" width="18.01" height="6.4" transform="translate(277.37 453.6) rotate(17.7)" fill="#000"/><rect x="-9" y="-3.2" width="18.01" height="6.4" transform="translate(280.87 464.9) rotate(11.42)" fill="#000"/><rect x="-9" y="-3.2" width="18.01" height="6.4" transform="translate(356.96 448.89) rotate(-19.99)" fill="#000"/><rect x="-9" y="-3.2" width="18.01" height="6.4" transform="translate(360.56 458.52) rotate(-18.51)" fill="#000"/><rect x="-9" y="-3.2" width="18.01" height="6.4" transform="translate(376.93 462.08) rotate(-21.08)" fill="#000"/><rect x="-5.19" y="-3.2" width="10.38" height="6.4" transform="translate(369.54 425.97) rotate(-40.63)" fill="#000"/></mask>
<clipPath id="c1"><rect x="42.0" y="283.2" width="359.5" height="188.4"/></clipPath>
<g clip-path="url(#c1)">
<rect x="42.0" y="283.2" width="359.5" height="188.4" fill="#00224e"/>
<path fill="#002656" fill-rule="evenodd" d="M43 471.6 401.5 471.6 401.5 283.2 42 283.2 42 471.6ZM299.6 426.6 295.6 425.9 291.7 424.8 287.7 423.5 284.7 422.1 281.1 420.3 277.5 418.2 273 415.1 270.6 413 261.4 402.5 259.2 399.4 257.5 396.2 256.8 394.1 256.7 393.1 256.8 391 257.5 388.9 258.9 386.8 260.7 385.2 262.7 384 264.7 383.1 267.7 382.1 274.7 380.5 282.7 379.7 292.7 379.6 308.6 380.7 320.6 380.3 326.6 380.4 331.6 380.8 342.6 382.1 346.6 382.9 350.6 384 353.6 385.2 356.9 386.8 359.6 388.4 361.6 390 362.6 391.1 363.6 393.1 363.9 395.2 363.8 396.2 363.1 398.3 362.2 400.4 360.3 403.6 355.4 410.9 352.6 414.5 350.7 416.1 349.6 416.9 345.6 418.8 337.6 421.3 329.6 424.1 324.6 425.4 317.6 426.7 311.6 427.4 305.6 427.3 299.6 426.6Z"/>
<path fill="#083370" fill-rule="evenodd" d="M43 471.6 401.5 471.6 401.5 398.3 396.5 403.3 387.5 413 384.2 416.1 381.5 418.2 371.4 424.5 369.5 425.9 367.5 428.7 366.5 429.5 362.6 431.8 343.6 439.9 339.5 441.2 335.8 442.3 321.6 445.3 315.6 446.2 312.6 446.4 308.6 446.4 301.6 445.6 285.7 441.8 281.7 440.5 277.7 438.7 271.7 435.3 260.7 427.8 234.7 411.9 230 407.8 220.1 397.3 215.6 392.1 205.2 379.5 200.4 373.2 197.7 369 196.2 365.9 195.4 362.7 195.7 360.7 196.2 359.6 197.2 358.6 198.8 357.6 200.8 356.8 202.8 356.4 208.8 355.8 230.7 356.1 237.7 355.8 240.7 355.9 266.7 359 295.6 361.5 302.6 362.4 304.6 362.5 314.6 362.4 321.6 362.1 352.6 360 367.5 358.8 382.5 358.1 395.5 356.5 401.5 356.6 401.5 283.2 42 283.2 42 356.9 48 356.9 52 357.2 55 357.7 58 358.5 60.2 359.6 62 361.2 62.9 362.7 63.3 364.8 62.9 368 61.3 372.2 59.5 375.3 55 382 52.1 386.8 50 389.7 47.7 392.1 45 394.3 42 396.3 42 471.6Z"/>
<path fill="#2f426d" fill-rule="evenodd" d="M43 471.6 401.5 471.6 401.5 422.4 391.9 429.7 386.5 433.5 378.5 437.6 365.6 444.9 360.6 447.3 357.6 448.5 354.6 449.2 345.3 452.8 343.6 453.2 339.6 453.6 332.6 455.5 325.6 458.3 319.6 460.4 315.6 461.2 313.6 461.3 311.6 461.2 308.6 460.5 299.6 457.8 295.6 456.9 278.2 453.8 274.7 452.6 269.7 450.1 248.7 437.5 240.7 433.3 233.7 430.3 229.3 427.6 223.7 423.4 215.8 415.9 197.8 401.8 185.8 393.3 176.8 388 173.8 386.4 171.8 385.6 165.8 384 153.8 381.2 148.9 380.2 140.9 379.1 131.9 378.7 122.9 379.1 113.9 380.4 102.9 382.8 98.9 384.1 95.9 385.3 90.9 387.8 71 398.9 67 401.5 62 405.1 50 414.7 47 416.4 42 418.3 42 471.6ZM302.6 349.2 315.6 349.3 326.6 348.7 336.6 347.6 364.6 344 372.5 342.6 377.5 341.4 381.5 340.2 394.5 335.6 398.5 334.6 401.5 334.1 401.5 283.2 42 283.2 42 333.8 51 330.9 57 328.6 62 326.4 71 321.9 80.3 317.7 92.6 312.5 101 309.4 105.9 307.9 119.9 305 126.9 304 131.9 303.9 136.9 304.6 146.9 306.5 152.8 306.9 155.8 307.3 161.8 308.7 171.4 311.5 195.8 323.4 205.8 327.9 216.8 332.2 229.7 336.3 256.7 342.6 267.7 344.8 278.7 346.5 296.6 348.3 301.7 349.1Z"/>
<path fill="#45506c" fill-rule="evenodd" d="M43 471.6 304.3 471.6 300.6 469.2 297.6 468 293.6 467.1 277.7 464.3 272.7 463 268.7 461.6 260.7 458 241.7 447.9 230.7 442.6 222.7 437.8 211.8 429.9 209.2 427.6 202.4 420.3 197.8 416.5 191.8 412.9 185.8 411.3 183.8 410.5 182.8 409.7 180.8 406.2 178.8 404.8 176.8 403.8 172.8 402.5 168.8 401.9 146.9 397.5 140.9 396.5 135.9 396.2 129.9 396.6 122.9 397.4 104.9 400.3 102.9 400.9 98.9 403 93.3 406.7 91.4 407.8 81.9 411 75 414.7 71 415.5 70 415.9 68 417.2 60 423.5 52 429.1 46 432.7 42 434.4 42 471.6ZM324.6 471.6 401.5 471.6 401.5 437.4 391.5 444.4 386.6 447.5 374.5 452.5 366.5 456.8 364.6 457.5 359.6 458.8 347.6 463.4 333.6 467.5 328.6 469.5 324.6 471.6ZM296.6 337.7 301.6 338.2 310.6 338.4 318.6 338.3 325.6 338 332.6 337.1 357.6 332.8 367.5 331.5 370.5 330.8 373.5 329.8 382.5 325.6 389.1 323 395.5 321 401.5 319.8 401.5 283.2 42 283.2 42 318.7 49 316.3 55 313.8 61 310.8 74 303.7 79.9 300.6 87.9 296.9 94.9 294.2 102.9 291.6 118.9 287.7 127.9 286.3 130.9 286.1 133.9 286.2 138.9 286.9 148.9 288.7 161.8 291.8 171.8 293.7 173.8 294.4 178.8 296.8 192.8 304.7 213.8 315.5 223.7 320 235.7 324.4 256.7 330.6 268.7 333.6 280.7 335.8 296 337.6Z"/>
<path fill="#595e6e" fill-rule="evenodd" d="M43 471.6 266.2 471.6 260.7 469.4 254.7 466.6 233.7 456.3 225.7 451.9 219.8 448.1 209.8 440.7 199.6 432.9 191.8 426.6 184.8 422.9 178.8 419.4 170.8 416.6 166.8 414.7 164.8 414 158.8 414.2 145.9 411.9 140.9 411.4 135.9 411.2 126.9 411.7 111.9 413.4 106.9 413.3 105.9 413.5 104.9 413.9 101.1 416.1 90.9 420.2 80.9 425.2 71 429.6 66 432.4 57.9 438.1 53 441.1 48 443.4 42 445.5 42 471.6ZM358.6 471.6 401.5 471.6 401.5 450 389.5 457.4 385.5 459.6 380.5 461.6 376.5 462.3 367.5 467.3 358.4 471.6ZM310.6 328.2 321.6 328.2 330.6 327.4 338.6 326 358.6 321.2 363.6 320.4 368.5 320.1 372.5 318.8 381.2 314.6 390.5 310.6 396.5 308.5 401.5 307.1 401.5 283.2 179.2 283.2 183.7 285.3 187.6 287.4 200.8 295.5 223.2 307.3 230.7 310.5 237.7 312.9 252.7 318.5 259.7 320.8 266.7 322.8 273.7 324.5 280.7 325.9 286.7 326.7 292.7 327.3 310 328.2ZM43 305.8 49 303.7 54 301.2 59 298.3 72 290.1 78.9 286.3 85.2 283.2 42 283.2 42 306.1Z"/>
<path fill="#6b6d72" fill-rule="evenodd" d="M43 471.6 242 471.6 235.7 468.3 225.7 463.3 218.8 459.3 210.8 453.9 200.8 445.6 195.8 442 186.8 436.5 173.8 429.7 167.8 427.2 163.8 426.2 146.9 424.1 139.9 423.7 126.9 423.9 106.9 425.3 92.9 430.9 78.9 437.3 72 441.1 62 447.9 57 450.9 50 454 42 456.7 42 471.6ZM390.5 471.6 401.5 471.6 401.5 462.2 399.5 463.6 393.5 469.1 390.4 471.6ZM289.7 317.8 295.6 318.3 303.6 318.7 318.6 318.7 327.6 318.1 333.6 317.2 339.6 315.9 355.6 311.3 360.6 310.1 364.6 309.5 368.5 309.6 371.5 309 375.5 307.4 384.5 302.6 390.5 299.8 395.5 297.9 401.5 296.2 401.5 283.2 205.2 283.2 225.9 296.8 230.7 299.6 234.7 301.4 253.7 308.7 266.7 313 272.7 314.6 278.7 316 283.7 317 289.4 317.7ZM43 293.1 47.8 290.5 59.5 283.2 42 283.2 42 293.4Z"/>
<path fill="#7d7c78" fill-rule="evenodd" d="M43 471.6 219.7 471.6 212.8 467.5 206.8 463.5 202.2 460.1 197.3 455.9 194.8 454.1 179.3 445.4 173.8 442.6 169.8 441.1 165.8 440 150.8 437.5 145.9 435.7 143.9 435.2 137.9 434.8 130.9 435 123.9 435.5 117.9 436.6 109.9 438.3 104.9 438.5 100.9 439.8 81.9 447.5 77 449.9 74 451.7 64 459.1 60 461.5 56 463.6 51 465.7 42 468.3 42 471.6ZM304.6 309.4 313.6 309.5 320.6 309.3 326.6 308.9 331.6 308.2 339.6 306.6 354.6 302.2 360.6 300.7 363.6 300 367.5 299.8 369.5 299.3 374.5 297.2 386.5 290.6 391.5 288.1 396.5 286.1 401.5 284.6 401.5 283.2 226.5 283.2 234.7 289.4 237.9 291.6 240.7 293.1 244 294.7 249 296.8 262.7 301.7 274.7 305.5 283.7 307.6 292.7 308.9 304.1 309.4Z"/>
<path fill="#908b78" fill-rule="evenodd" d="M66 471.6 199.8 471.6 190.8 465.6 180.7 460.1 173.8 455.5 168.8 452.8 166.8 452.1 164.8 451.7 159.8 452.2 158.8 452.1 156.8 451.6 150.8 449.2 147.9 448.2 142.9 447.3 137.9 447 127.9 447.5 112.9 449.5 108.9 449.7 101.9 452.1 94.9 454 90.9 455.8 87 458 72 467.8 65.8 471.6ZM307.6 300 318.6 300 324.6 299.8 330.6 299.3 335.6 298.4 347.6 295 361.6 291.6 370.5 287.9 379.4 283.2 244.2 283.2 248.7 285.5 254.7 287.9 283.7 297.6 289.3 298.9 294.6 299.6 307.2 299.9Z"/>
<path fill="#a39a74" fill-rule="evenodd" d="M90.9 471.6 179.4 471.6 171.8 466.7 169.8 465.8 166.8 464.8 154.8 462.5 145.9 460.4 142.9 459.9 138.9 459.8 131.9 460.2 116.9 462.2 112.9 463 111.9 463.7 110.9 464 104.9 464.8 101.9 465.8 98.9 467.1 94.9 469.2 90.8 471.6ZM297.6 289.7 299.6 290 301.6 289.9 309.6 288.9 312.6 288.8 316.6 288.9 325.6 289.8 329.6 289.7 331.6 289.2 337.6 286.5 339.6 285.9 353.7 283.2 280.9 283.2 290.7 287.5 296.8 289.5Z"/>
<g mask="url(#m1)" fill="none" stroke="#000" stroke-width="0.6" stroke-dasharray="0.7 0.7" stroke-opacity="1">
<path d="M299.6 426.6 293.6 425.4 288.7 423.8 283.7 421.7 279.2 419.3 274.7 416.3 271.7 414 270.6 413 264 405.7 260.6 401.5 258.5 398.3 257.1 395.2 256.7 393.1 256.8 391 257.1 390 258.1 387.9 260 385.8 262.7 384 266.7 382.4 271.7 381.1 276.7 380.2 282.7 379.7 292.7 379.6 308.6 380.7 321.6 380.3 329.6 380.6 342.6 382.1 346.6 382.9 350.6 384 354.8 385.8 359.6 388.4 361.6 390 363.1 392.1 363.8 394.1 363.8 396.2 363.1 398.3 361.6 401.5 353.9 413 351.6 415.5 349.1 417.2 344.6 419.2 337.6 421.3 330.6 423.8 325.6 425.2 320.6 426.2 315.6 427 310.6 427.4 305.6 427.3 299.6 426.6"/>
<path d="M401.5 398.3 396.5 403.3 387.5 413 384.2 416.1 381.5 418.2 371.4 424.5 369.5 425.9 367.5 428.7 366.5 429.5 362.6 431.8 343.6 439.9 339.5 441.2 335.8 442.3 321.6 445.3 315.6 446.2 312.6 446.4 308.6 446.4 301.6 445.6 285.7 441.8 281.7 440.5 277.7 438.7 271.7 435.3 260.7 427.8 234.7 411.9 230 407.8 220.1 397.3 215.6 392.1 205.2 379.5 200.4 373.2 197.7 369 196.2 365.9 195.4 362.7 195.7 360.7 196.2 359.6 197.2 358.6 198.8 357.6 200.8 356.8 202.8 356.4 208.8 355.8 230.7 356.1 237.7 355.8 240.7 355.9 266.7 359 295.6 361.5 302.6 362.4 304.6 362.5 314.6 362.4 321.6 362.1 352.6 360 367.5 358.8 382.5 358.1 395.5 356.5 401.5 356.6"/>
<path d="M42 356.9 48 356.9 52 357.2 55 357.7 58 358.5 60.2 359.6 62 361.2 62.9 362.7 63.3 364.8 62.9 368 61.3 372.2 59.5 375.3 55 382 52.1 386.8 50 389.7 47.7 392.1 45 394.3 42 396.3"/>
<path d="M401.5 422.4 391.9 429.7 386.5 433.5 378.5 437.6 365.6 444.9 360.6 447.3 357.6 448.5 354.6 449.2 345.3 452.8 343.6 453.2 339.6 453.6 332.6 455.5 325.6 458.3 319.6 460.4 315.6 461.2 313.6 461.3 311.6 461.2 308.6 460.5 299.6 457.8 295.6 456.9 278.2 453.8 274.7 452.6 269.7 450.1 248.7 437.5 240.7 433.3 233.7 430.3 229.3 427.6 223.7 423.4 215.8 415.9 197.8 401.8 185.8 393.3 176.8 388 173.8 386.4 171.8 385.6 165.8 384 149.8 380.3 141.9 379.2 132.9 378.7 123.9 379 114.9 380.2 102.9 382.8 98.9 384.1 95.9 385.3 90.9 387.8 71 398.9 67 401.5 62 405.1 50 414.7 47 416.4 42 418.3"/>
<path d="M42 333.8 51 330.9 57 328.6 62 326.4 71 321.9 78 318.8 92.6 312.5 100.9 309.4 104.9 308.2 118.9 305.2 124.9 304.3 129.9 303.9 135.9 304.4 146.9 306.5 152.8 306.9 155.8 307.3 161.8 308.7 171.4 311.5 195.8 323.4 205.8 327.9 217.8 332.5 230.7 336.5 256.7 342.6 267.7 344.8 278.7 346.5 296.6 348.3 301.6 349.1 315.6 349.3 325.6 348.8 335.6 347.8 363.6 344.2 372.5 342.6 377.5 341.4 381.5 340.2 394.5 335.6 398.5 334.6 401.5 334.1"/>
<path d="M304.3 471.6 300.6 469.2 297.6 468 293.6 467.1 277.7 464.3 272.7 463 268.7 461.6 260.7 458 241.7 447.9 230.7 442.6 222.7 437.8 211.8 429.9 209.2 427.6 202.4 420.3 197.8 416.5 191.8 412.9 185.8 411.3 183.8 410.5 182.8 409.7 180.8 406.2 179.8 405.4 177.8 404.2 175.8 403.4 172.8 402.5 168.8 401.9 142.9 396.8 136.9 396.2 128.9 396.7 114.9 398.6 104.9 400.3 102.9 400.9 98.9 403 93.3 406.7 91.4 407.8 81.9 411 75 414.7 71 415.5 70 415.9 68 417.2 60 423.5 52 429.1 46 432.7 42 434.4"/>
<path d="M401.5 437.4 391.5 444.4 386.6 447.5 374.5 452.5 366.5 456.8 364.6 457.5 359.6 458.8 347.6 463.4 333.6 467.5 328.6 469.5 324.6 471.6"/>
<path d="M42 318.7 49 316.3 55 313.8 61 310.8 74 303.7 79.9 300.6 87.9 296.9 94.9 294.2 102.9 291.6 117.9 288 125.9 286.6 131.9 286.1 137.9 286.7 148.9 288.7 161.8 291.8 172.8 294 177.8 296.3 190.8 303.6 211.8 314.6 219.8 318.3 227.7 321.6 237.7 325 253.7 329.8 261.7 331.9 273.7 334.6 285.7 336.4 299.6 338 307.6 338.4 320.6 338.3 325.6 338 330.6 337.4 355.6 333.1 367.5 331.5 369.5 331.1 374.5 329.4 382.5 325.6 388.5 323.2 394.5 321.3 401.5 319.8"/>
<path d="M266.2 471.6 260.7 469.4 255.7 467.1 234.7 456.8 227.7 453.1 222.1 449.6 216.8 445.9 203.6 436 191.8 426.6 184.8 422.9 178.8 419.4 170.8 416.6 166.8 414.7 164.8 414 158.8 414.2 146.9 412 141.9 411.5 136.9 411.3 128.9 411.5 111.9 413.4 106.9 413.3 105.9 413.5 104.9 413.9 101.1 416.1 90.9 420.2 80.9 425.2 71 429.6 66 432.4 57.9 438.1 53 441.1 48 443.4 42 445.5"/>
<path d="M401.5 450 389.5 457.4 385.5 459.6 380.5 461.6 376.5 462.3 367.5 467.3 358.4 471.6"/>
<path d="M42 306.1 48 304.1 54 301.2 59 298.3 72 290.1 78.9 286.3 85.2 283.2"/>
<path d="M179.2 283.2 183.7 285.3 187.6 287.4 201.3 295.8 220.8 306 228.7 309.7 237.7 312.9 251.7 318.2 262.7 321.7 269.7 323.6 275.7 324.9 282.7 326.2 288.7 327 293.6 327.4 305.6 328 316.6 328.3 325.6 327.9 334.6 326.8 340.6 325.5 358.6 321.2 362.6 320.6 367.5 320.2 369.5 319.8 373.5 318.3 380.5 314.9 389.5 311 396.5 308.5 401.5 307.1"/>
<path d="M242 471.6 235.7 468.3 225.7 463.3 218.8 459.3 210.8 453.9 200.8 445.6 196.3 442.3 186.8 436.5 174.8 430.2 168.9 427.6 164.8 426.4 144.9 423.9 139.9 423.7 127.9 423.9 112.9 425 107.9 425.1 105.9 425.6 101.9 427.4 91.9 431.3 77 438.3 71 441.7 61 448.6 55 451.9 49 454.4 42 456.7"/>
<path d="M401.5 462.2 399.5 463.6 393.5 469.1 390.4 471.6"/>
<path d="M42 293.4 44 292.6 47 291 59.5 283.2"/>
<path d="M205.2 283.2 226.7 297.3 231.5 299.9 236.7 302.2 256.7 309.7 263.7 312.1 270.7 314.1 276.7 315.6 282.7 316.8 288.7 317.7 295.6 318.3 303.6 318.7 320.6 318.6 327.6 318.1 334.6 317 342.6 315.1 359.6 310.3 363.6 309.6 368.5 309.6 371.5 309 375.5 307.4 384.5 302.6 390.5 299.8 395.5 297.9 401.5 296.2"/>
<path d="M219.7 471.6 212.8 467.5 206.8 463.5 202.2 460.1 197.3 455.9 194.8 454.1 179.3 445.4 173.8 442.6 169.8 441.1 165.8 440 150.8 437.5 145.9 435.7 143.9 435.2 138.9 434.8 131.9 435 123.9 435.5 117.9 436.6 109.9 438.3 105.9 438.4 102.9 439.1 82 447.5 77.4 449.6 74 451.7 64 459.1 60 461.5 56 463.6 51 465.7 42 468.3"/>
<path d="M226.5 283.2 232.7 288 236.4 290.5 239.8 292.6 242.7 294.1 247.7 296.3 253.7 298.6 270.7 304.3 279.7 306.8 288.7 308.4 296.6 309.1 311.6 309.5 323.6 309.1 332.6 308.1 340.6 306.3 354.6 302.2 360.6 300.7 363.6 300 367.5 299.8 369.5 299.3 374.5 297.2 386.5 290.6 391.5 288.1 396.5 286.1 401.5 284.6"/>
<path d="M199.8 471.6 190.8 465.6 180.7 460.1 173.8 455.5 168.8 452.8 166.8 452.1 164.8 451.7 159.8 452.2 158.8 452.1 156.8 451.6 150.8 449.2 147.9 448.2 142.9 447.3 137.9 447 127.9 447.5 112.9 449.5 108.9 449.7 101.9 452.1 94.9 454 90.9 455.8 87 458 72 467.8 65.8 471.6"/>
<path d="M244.2 283.2 248.7 285.5 255.7 288.3 280.7 296.8 285.7 298.1 291.7 299.3 296.6 299.8 316.6 300 325.6 299.8 333 298.9 337.6 297.9 347.6 295 360.6 291.9 364.4 290.5 369.5 288.3 373.6 286.3 379.4 283.2"/>
<path d="M179.4 471.6 171.8 466.7 169.8 465.8 166.8 464.8 154.8 462.5 145.9 460.4 142.9 459.9 138.9 459.8 131.9 460.2 116.9 462.2 112.9 463 111.9 463.7 110.9 464 104.9 464.8 101.9 465.8 98.9 467.1 94.9 469.2 90.8 471.6"/>
<path d="M280.9 283.2 289.7 287.1 293.2 288.4 297.6 289.7 300.6 290 309.6 288.9 312.6 288.8 316.6 288.9 325.6 289.8 329.6 289.7 331.6 289.2 337.6 286.5 339.6 285.9 353.7 283.2"/>
</g>
<g font-family="Liberation Sans, sans-serif" font-size="8" fill="#00ffff" text-anchor="middle">
<text transform="translate(68.26 292.31) rotate(-31.75)" y="2.88" textLength="15.01" lengthAdjust="spacingAndGlyphs">-1.6</text>
<text transform="translate(72.56 304.45) rotate(-28.31)" y="2.88" textLength="15.01" lengthAdjust="spacingAndGlyphs">-2.4</text>
<text transform="translate(70.46 322.14) rotate(-25.32)" y="2.88" textLength="15.01" lengthAdjust="spacingAndGlyphs">-3.2</text>
<text transform="translate(149.55 288.85) rotate(12.33)" y="2.88" textLength="15.01" lengthAdjust="spacingAndGlyphs">-2.4</text>
<text transform="translate(147.45 306.54) rotate(6.4)" y="2.88" textLength="15.01" lengthAdjust="spacingAndGlyphs">-3.2</text>
<text transform="translate(226.74 297.33) rotate(30.38)" y="2.88" textLength="15.01" lengthAdjust="spacingAndGlyphs">-0.8</text>
<text transform="translate(221.75 306.54) rotate(25.93)" y="2.88" textLength="15.01" lengthAdjust="spacingAndGlyphs">-1.6</text>
<text transform="translate(223.85 320.04) rotate(22.1)" y="2.88" textLength="15.01" lengthAdjust="spacingAndGlyphs">-2.4</text>
<text transform="translate(222.45 334.07) rotate(17.59)" y="2.88" textLength="15.01" lengthAdjust="spacingAndGlyphs">-3.2</text>
<text transform="translate(237.93 291.57) rotate(30.72)" y="2.88" textLength="4.49" lengthAdjust="spacingAndGlyphs">0</text>
<text transform="translate(282.17 297.23) rotate(15.53)" y="2.88" textLength="12.12" lengthAdjust="spacingAndGlyphs">0.8</text>
<text transform="translate(330.6 289.58) rotate(-14.58)" y="2.88" textLength="12.12" lengthAdjust="spacingAndGlyphs">1.6</text>
<text transform="translate(315.52 309.47) rotate(-1.19)" y="2.88" textLength="4.49" lengthAdjust="spacingAndGlyphs">0</text>
<text transform="translate(304.14 318.68) rotate(0.93)" y="2.88" textLength="15.01" lengthAdjust="spacingAndGlyphs">-0.8</text>
<text transform="translate(298.44 327.58) rotate(3.1)" y="2.88" textLength="15.01" lengthAdjust="spacingAndGlyphs">-1.6</text>
<text transform="translate(301.34 338.15) rotate(3.43)" y="2.88" textLength="15.01" lengthAdjust="spacingAndGlyphs">-2.4</text>
<text transform="translate(301.34 349.14) rotate(4.49)" y="2.88" textLength="15.01" lengthAdjust="spacingAndGlyphs">-3.2</text>
<text transform="translate(302.24 362.43) rotate(3.93)" y="2.88" textLength="7.38" lengthAdjust="spacingAndGlyphs">-4</text>
<text transform="translate(361.66 291.57) rotate(-18.35)" y="2.88" textLength="12.12" lengthAdjust="spacingAndGlyphs">0.8</text>
<text transform="translate(393.01 287.39) rotate(-22.37)" y="2.88" textLength="4.49" lengthAdjust="spacingAndGlyphs">0</text>
<text transform="translate(383.72 302.98) rotate(-27.31)" y="2.88" textLength="15.01" lengthAdjust="spacingAndGlyphs">-0.8</text>
<text transform="translate(378.73 315.75) rotate(-25.36)" y="2.88" textLength="15.01" lengthAdjust="spacingAndGlyphs">-1.6</text>
<text transform="translate(380.83 326.32) rotate(-24.78)" y="2.88" textLength="15.01" lengthAdjust="spacingAndGlyphs">-2.4</text>
<text transform="translate(380.83 340.45) rotate(-17.86)" y="2.88" textLength="15.01" lengthAdjust="spacingAndGlyphs">-3.2</text>
<text transform="translate(54.88 382.11) rotate(-57.19)" y="2.88" textLength="7.38" lengthAdjust="spacingAndGlyphs">-4</text>
<text transform="translate(63.37 404.09) rotate(-36.97)" y="2.88" textLength="15.01" lengthAdjust="spacingAndGlyphs">-3.2</text>
<text transform="translate(137.57 378.87) rotate(2.92)" y="2.88" textLength="15.01" lengthAdjust="spacingAndGlyphs">-3.2</text>
<text transform="translate(137.57 396.24) rotate(1.54)" y="2.88" textLength="15.01" lengthAdjust="spacingAndGlyphs">-2.4</text>
<text transform="translate(139.36 411.31) rotate(1.3)" y="2.88" textLength="15.01" lengthAdjust="spacingAndGlyphs">-1.6</text>
<text transform="translate(222.45 355.94) rotate(1.18)" y="2.88" textLength="7.38" lengthAdjust="spacingAndGlyphs">-4</text>
<text transform="translate(225.25 402.73) rotate(46.6)" y="2.88" textLength="7.38" lengthAdjust="spacingAndGlyphs">-4</text>
<text transform="translate(209.97 411.42) rotate(38.22)" y="2.88" textLength="15.01" lengthAdjust="spacingAndGlyphs">-3.2</text>
<text transform="translate(307.83 380.64) rotate(1.47)" y="2.88" textLength="15.01" lengthAdjust="spacingAndGlyphs">-4.8</text>
<text transform="translate(269.08 411.21) rotate(46.03)" y="2.88" textLength="15.01" lengthAdjust="spacingAndGlyphs">-4.8</text>
<text transform="translate(356.86 408.59) rotate(-54.84)" y="2.88" textLength="15.01" lengthAdjust="spacingAndGlyphs">-4.8</text>
<text transform="translate(383.72 358.04) rotate(-5.97)" y="2.88" textLength="7.38" lengthAdjust="spacingAndGlyphs">-4</text>
<text transform="translate(63.37 420.94) rotate(-37.58)" y="2.88" textLength="15.01" lengthAdjust="spacingAndGlyphs">-2.4</text>
<text transform="translate(66.17 432.25) rotate(-32.31)" y="2.88" textLength="15.01" lengthAdjust="spacingAndGlyphs">-1.6</text>
<text transform="translate(61.97 447.95) rotate(-32)" y="2.88" textLength="15.01" lengthAdjust="spacingAndGlyphs">-0.8</text>
<text transform="translate(51.29 465.63) rotate(-18.95)" y="2.88" textLength="4.49" lengthAdjust="spacingAndGlyphs">0</text>
<text transform="translate(81.74 461.45) rotate(-33.02)" y="2.88" textLength="12.12" lengthAdjust="spacingAndGlyphs">0.8</text>
<text transform="translate(112.1 463.96) rotate(-12.49)" y="2.88" textLength="12.12" lengthAdjust="spacingAndGlyphs">1.6</text>
<text transform="translate(136.17 423.77) rotate(-0.49)" y="2.88" textLength="15.01" lengthAdjust="spacingAndGlyphs">-0.8</text>
<text transform="translate(125.48 435.39) rotate(-5.84)" y="2.88" textLength="4.49" lengthAdjust="spacingAndGlyphs">0</text>
<text transform="translate(159.44 452.24) rotate(6.92)" y="2.88" textLength="12.12" lengthAdjust="spacingAndGlyphs">0.8</text>
<text transform="translate(210.37 428.79) rotate(42.6)" y="2.88" textLength="15.01" lengthAdjust="spacingAndGlyphs">-2.4</text>
<text transform="translate(213.76 443.65) rotate(36.63)" y="2.88" textLength="15.01" lengthAdjust="spacingAndGlyphs">-1.6</text>
<text transform="translate(210.37 453.6) rotate(37.83)" y="2.88" textLength="15.01" lengthAdjust="spacingAndGlyphs">-0.8</text>
<text transform="translate(201.18 459.25) rotate(39.07)" y="2.88" textLength="4.49" lengthAdjust="spacingAndGlyphs">0</text>
<text transform="translate(293.25 443.65) rotate(13.3)" y="2.88" textLength="7.38" lengthAdjust="spacingAndGlyphs">-4</text>
<text transform="translate(277.37 453.6) rotate(17.7)" y="2.88" textLength="15.01" lengthAdjust="spacingAndGlyphs">-3.2</text>
<text transform="translate(280.87 464.9) rotate(11.42)" y="2.88" textLength="15.01" lengthAdjust="spacingAndGlyphs">-2.4</text>
<text transform="translate(356.96 448.89) rotate(-19.99)" y="2.88" textLength="15.01" lengthAdjust="spacingAndGlyphs">-3.2</text>
<text transform="translate(360.56 458.52) rotate(-18.51)" y="2.88" textLength="15.01" lengthAdjust="spacingAndGlyphs">-2.4</text>
<text transform="translate(376.93 462.08) rotate(-21.08)" y="2.88" textLength="15.01" lengthAdjust="spacingAndGlyphs">-1.6</text>
<text transform="translate(369.54 425.97) rotate(-40.63)" y="2.88" textLength="7.38" lengthAdjust="spacingAndGlyphs">-4</text>
</g>
</g>
<g font-family="Liberation Sans, sans-serif">
<rect x="42.0" y="21.4" width="359.5" height="188.5" fill="none" stroke="#000" stroke-width="1.0"/>
<path d="M42 209.9V213.5M42 21.4V17.8M131.88 209.9V213.5M131.88 21.4V17.8M221.75 209.9V213.5M221.75 21.4V17.8M311.62 209.9V213.5M311.62 21.4V17.8M401.5 209.9V213.5M401.5 21.4V17.8M42 209.9H38.4M401.5 209.9H405.1M42 178.48H38.4M401.5 178.48H405.1M42 147.07H38.4M401.5 147.07H405.1M42 115.65H38.4M401.5 115.65H405.1M42 84.23H38.4M401.5 84.23H405.1M42 52.82H38.4M401.5 52.82H405.1M42 21.4H38.4M401.5 21.4H405.1" stroke="#000" stroke-width="0.9" fill="none"/>
<text x="42" y="227.1" text-anchor="middle" font-size="10.4" font-weight="bold" fill="#000" textLength="7.84" lengthAdjust="spacingAndGlyphs">0</text>
<text x="131.88" y="227.1" text-anchor="middle" font-size="10.4" font-weight="bold" fill="#000" textLength="15.07" lengthAdjust="spacingAndGlyphs">90</text>
<text x="221.75" y="227.1" text-anchor="middle" font-size="10.4" font-weight="bold" fill="#000" textLength="22.31" lengthAdjust="spacingAndGlyphs">180</text>
<text x="311.62" y="227.1" text-anchor="middle" font-size="10.4" font-weight="bold" fill="#000" textLength="22.31" lengthAdjust="spacingAndGlyphs">270</text>
<text x="401.5" y="227.1" text-anchor="middle" font-size="10.4" font-weight="bold" fill="#000" textLength="22.31" lengthAdjust="spacingAndGlyphs">360</text>
<text x="34.7" y="213.8" text-anchor="end" font-size="10.4" font-weight="bold" fill="#000" textLength="19.39" lengthAdjust="spacingAndGlyphs">-90</text>
<text x="34.7" y="182.38" text-anchor="end" font-size="10.4" font-weight="bold" fill="#000" textLength="19.39" lengthAdjust="spacingAndGlyphs">-60</text>
<text x="34.7" y="150.97" text-anchor="end" font-size="10.4" font-weight="bold" fill="#000" textLength="19.39" lengthAdjust="spacingAndGlyphs">-30</text>
<text x="34.7" y="119.55" text-anchor="end" font-size="10.4" font-weight="bold" fill="#000" textLength="7.84" lengthAdjust="spacingAndGlyphs">0</text>
<text x="34.7" y="88.13" text-anchor="end" font-size="10.4" font-weight="bold" fill="#000" textLength="15.07" lengthAdjust="spacingAndGlyphs">30</text>
<text x="34.7" y="56.72" text-anchor="end" font-size="10.4" font-weight="bold" fill="#000" textLength="15.07" lengthAdjust="spacingAndGlyphs">60</text>
<text x="34.7" y="25.3" text-anchor="end" font-size="10.4" font-weight="bold" fill="#000" textLength="15.07" lengthAdjust="spacingAndGlyphs">90</text>
<text x="221.75" y="9.1" text-anchor="middle" font-size="11.5" font-weight="bold" fill="#000" textLength="164" lengthAdjust="spacingAndGlyphs">(a) Local solar time : 2h</text>
<text transform="translate(9.7 115.65) rotate(-90)" text-anchor="middle" font-size="12" font-weight="bold" fill="#000" textLength="103" lengthAdjust="spacingAndGlyphs">Latitude (deg.)</text>
<rect x="42.0" y="283.2" width="359.5" height="188.4" fill="none" stroke="#000" stroke-width="1.0"/>
<path d="M42 471.6V475.2M42 283.2V279.6M131.88 471.6V475.2M131.88 283.2V279.6M221.75 471.6V475.2M221.75 283.2V279.6M311.62 471.6V475.2M311.62 283.2V279.6M401.5 471.6V475.2M401.5 283.2V279.6M42 471.6H38.4M401.5 471.6H405.1M42 440.2H38.4M401.5 440.2H405.1M42 408.8H38.4M401.5 408.8H405.1M42 377.4H38.4M401.5 377.4H405.1M42 346H38.4M401.5 346H405.1M42 314.6H38.4M401.5 314.6H405.1M42 283.2H38.4M401.5 283.2H405.1" stroke="#000" stroke-width="0.9" fill="none"/>
<text x="42" y="488.8" text-anchor="middle" font-size="10.4" font-weight="bold" fill="#000" textLength="7.84" lengthAdjust="spacingAndGlyphs">0</text>
<text x="131.88" y="488.8" text-anchor="middle" font-size="10.4" font-weight="bold" fill="#000" textLength="15.07" lengthAdjust="spacingAndGlyphs">90</text>
<text x="221.75" y="488.8" text-anchor="middle" font-size="10.4" font-weight="bold" fill="#000" textLength="22.31" lengthAdjust="spacingAndGlyphs">180</text>
<text x="311.62" y="488.8" text-anchor="middle" font-size="10.4" font-weight="bold" fill="#000" textLength="22.31" lengthAdjust="spacingAndGlyphs">270</text>
<text x="401.5" y="488.8" text-anchor="middle" font-size="10.4" font-weight="bold" fill="#000" textLength="22.31" lengthAdjust="spacingAndGlyphs">360</text>
<text x="34.7" y="475.5" text-anchor="end" font-size="10.4" font-weight="bold" fill="#000" textLength="19.39" lengthAdjust="spacingAndGlyphs">-90</text>
<text x="34.7" y="444.1" text-anchor="end" font-size="10.4" font-weight="bold" fill="#000" textLength="19.39" lengthAdjust="spacingAndGlyphs">-60</text>
<text x="34.7" y="412.7" text-anchor="end" font-size="10.4" font-weight="bold" fill="#000" textLength="19.39" lengthAdjust="spacingAndGlyphs">-30</text>
<text x="34.7" y="381.3" text-anchor="end" font-size="10.4" font-weight="bold" fill="#000" textLength="7.84" lengthAdjust="spacingAndGlyphs">0</text>
<text x="34.7" y="349.9" text-anchor="end" font-size="10.4" font-weight="bold" fill="#000" textLength="15.07" lengthAdjust="spacingAndGlyphs">30</text>
<text x="34.7" y="318.5" text-anchor="end" font-size="10.4" font-weight="bold" fill="#000" textLength="15.07" lengthAdjust="spacingAndGlyphs">60</text>
<text x="34.7" y="287.1" text-anchor="end" font-size="10.4" font-weight="bold" fill="#000" textLength="15.07" lengthAdjust="spacingAndGlyphs">90</text>
<text x="221.75" y="270.9" text-anchor="middle" font-size="11.5" font-weight="bold" fill="#000" textLength="173" lengthAdjust="spacingAndGlyphs">(b) Local solar time : 14h</text>
<text transform="translate(9.7 377.4) rotate(-90)" text-anchor="middle" font-size="12" font-weight="bold" fill="#000" textLength="103" lengthAdjust="spacingAndGlyphs">Latitude (deg.)</text>
<linearGradient id="cg" x1="0" y1="0" x2="0" y2="1"><stop offset="0" stop-color="#fee838"/><stop offset="0.03" stop-color="#fbe138"/><stop offset="0.05" stop-color="#f3db42"/><stop offset="0.07" stop-color="#ebd44b"/><stop offset="0.1" stop-color="#e5cf52"/><stop offset="0.12" stop-color="#dec958"/><stop offset="0.15" stop-color="#d6c35d"/><stop offset="0.17" stop-color="#d0be62"/><stop offset="0.2" stop-color="#c8b866"/><stop offset="0.23" stop-color="#c2b369"/><stop offset="0.25" stop-color="#bcae6c"/><stop offset="0.28" stop-color="#b5a86f"/><stop offset="0.3" stop-color="#aea371"/><stop offset="0.33" stop-color="#a79d73"/><stop offset="0.35" stop-color="#a19975"/><stop offset="0.38" stop-color="#9b9476"/><stop offset="0.4" stop-color="#948e77"/><stop offset="0.42" stop-color="#8f8a78"/><stop offset="0.45" stop-color="#888578"/><stop offset="0.47" stop-color="#828079"/><stop offset="0.5" stop-color="#7d7c78"/><stop offset="0.53" stop-color="#777776"/><stop offset="0.55" stop-color="#727274"/><stop offset="0.57" stop-color="#6c6d72"/><stop offset="0.6" stop-color="#666970"/><stop offset="0.62" stop-color="#61656f"/><stop offset="0.65" stop-color="#5b606e"/><stop offset="0.68" stop-color="#555c6d"/><stop offset="0.7" stop-color="#4f576c"/><stop offset="0.72" stop-color="#49536c"/><stop offset="0.75" stop-color="#434e6c"/><stop offset="0.78" stop-color="#3c4a6c"/><stop offset="0.8" stop-color="#35456c"/><stop offset="0.82" stop-color="#2d416d"/><stop offset="0.85" stop-color="#243c6e"/><stop offset="0.88" stop-color="#1a386f"/><stop offset="0.9" stop-color="#083370"/><stop offset="0.93" stop-color="#00306f"/><stop offset="0.95" stop-color="#002b62"/><stop offset="0.97" stop-color="#002758"/><stop offset="1" stop-color="#00224e"/></linearGradient>
<rect x="430.6" y="23.2" width="14.4" height="442.6" fill="url(#cg)" stroke="#bbb" stroke-width="0.6"/>
<text x="448.4" y="469.7" text-anchor="start" font-size="10.4" font-weight="bold" fill="#000" textLength="12.15" lengthAdjust="spacingAndGlyphs">-5</text>
<text x="448.4" y="425.44" text-anchor="start" font-size="10.4" font-weight="bold" fill="#000" textLength="12.15" lengthAdjust="spacingAndGlyphs">-4</text>
<text x="448.4" y="381.18" text-anchor="start" font-size="10.4" font-weight="bold" fill="#000" textLength="12.15" lengthAdjust="spacingAndGlyphs">-3</text>
<text x="448.4" y="336.92" text-anchor="start" font-size="10.4" font-weight="bold" fill="#000" textLength="12.15" lengthAdjust="spacingAndGlyphs">-2</text>
<text x="448.4" y="292.66" text-anchor="start" font-size="10.4" font-weight="bold" fill="#000" textLength="12.15" lengthAdjust="spacingAndGlyphs">-1</text>
<text x="448.4" y="248.4" text-anchor="start" font-size="10.4" font-weight="bold" fill="#000" textLength="7.84" lengthAdjust="spacingAndGlyphs">0</text>
<text x="448.4" y="204.14" text-anchor="start" font-size="10.4" font-weight="bold" fill="#000" textLength="7.84" lengthAdjust="spacingAndGlyphs">1</text>
<text x="448.4" y="159.88" text-anchor="start" font-size="10.4" font-weight="bold" fill="#000" textLength="7.84" lengthAdjust="spacingAndGlyphs">2</text>
<text x="448.4" y="115.62" text-anchor="start" font-size="10.4" font-weight="bold" fill="#000" textLength="7.84" lengthAdjust="spacingAndGlyphs">3</text>
<text x="448.4" y="71.36" text-anchor="start" font-size="10.4" font-weight="bold" fill="#000" textLength="7.84" lengthAdjust="spacingAndGlyphs">4</text>
<text x="448.4" y="27.1" text-anchor="start" font-size="10.4" font-weight="bold" fill="#000" textLength="7.84" lengthAdjust="spacingAndGlyphs">5</text>
<path d="M445 421.54H441.4M445 377.28H441.4M445 333.02H441.4M445 288.76H441.4M445 244.5H441.4M445 200.24H441.4M445 155.98H441.4M445 111.72H441.4M445 67.46H441.4" stroke="#000" stroke-opacity="0.3" stroke-width="0.8"/>
<text transform="translate(470.9 244.5) rotate(-90)" text-anchor="middle" font-size="10" font-weight="bold" fill="#000" textLength="158" lengthAdjust="spacingAndGlyphs">Gravity wave amplitude (%)</text>
</g>
<g font-family="Liberation Sans, sans-serif"><text x="221.75" y="507.4" text-anchor="middle" font-size="12" font-weight="bold" fill="#000" textLength="175.5" lengthAdjust="spacingAndGlyphs">Solar Longitude,Ls (deg.)</text></g>
</svg>
</body></html>
